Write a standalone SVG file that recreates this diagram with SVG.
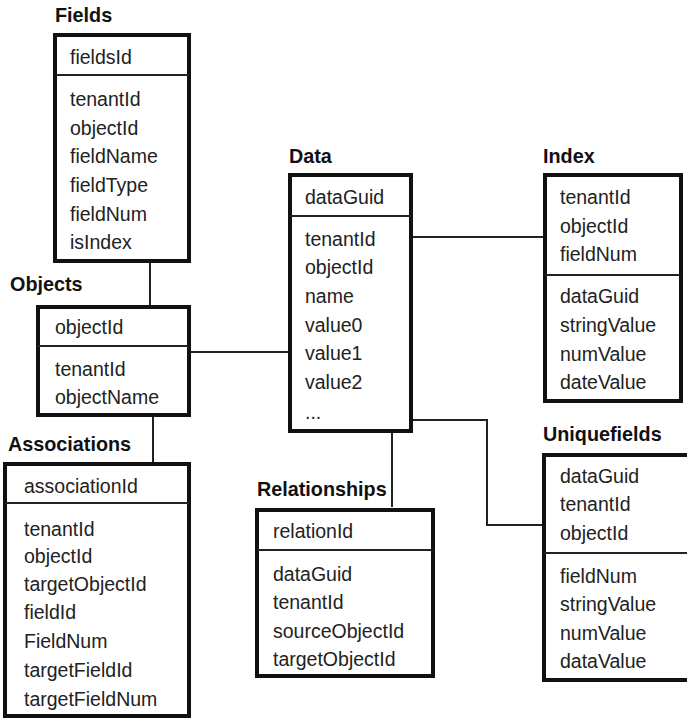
<svg xmlns="http://www.w3.org/2000/svg" width="687" height="721" viewBox="0 0 687 721">
  <style>
    .box { fill: #fff; stroke: #111; stroke-width: 4; }
    .div { stroke: #222; stroke-width: 2; }
    .conn { fill: none; stroke: #222; stroke-width: 2; }
    .title { font-family: "Liberation Sans", Arial, sans-serif; font-weight: bold; font-size: 19.8px; fill: #111; }
    .fld { font-family: "Liberation Sans", Arial, sans-serif; font-size: 19.5px; fill: #222; }
  </style>
  <rect width="687" height="721" fill="#fff"/>

  <!-- connectors between tables -->
  <g id="connectors">
    <line class="conn" x1="150" y1="263" x2="150" y2="305"/>
    <line class="conn" x1="153" y1="417" x2="153" y2="462"/>
    <line class="conn" x1="190" y1="352" x2="289" y2="352"/>
    <line class="conn" x1="413" y1="237" x2="543" y2="237"/>
    <polyline class="conn" points="413,420 487,420 487,525 543,525"/>
    <line class="conn" x1="392" y1="430" x2="392" y2="507"/>
  </g>

  <g id="fields">
    <text class="title" x="55" y="22">Fields</text>
    <rect class="box" x="55" y="35" width="134" height="226"/>
    <line class="div" x1="55" y1="75" x2="189" y2="75"/>
    <text class="fld" x="70" y="64">fieldsId</text>
    <text class="fld" x="70" y="106">tenantId</text>
    <text class="fld" x="70" y="135">objectId</text>
    <text class="fld" x="70" y="163">fieldName</text>
    <text class="fld" x="70" y="192">fieldType</text>
    <text class="fld" x="70" y="221">fieldNum</text>
    <text class="fld" x="70" y="249">isIndex</text>
  </g>

  <g id="objects">
    <text class="title" x="10" y="291">Objects</text>
    <rect class="box" x="38" y="307" width="151" height="108"/>
    <line class="div" x1="38" y1="346" x2="189" y2="346"/>
    <text class="fld" x="55" y="334">objectId</text>
    <text class="fld" x="55" y="376">tenantId</text>
    <text class="fld" x="55" y="404">objectName</text>
  </g>

  <g id="associations">
    <text class="title" x="8" y="451">Associations</text>
    <rect class="box" x="5" y="464" width="184" height="252"/>
    <line class="div" x1="5" y1="503" x2="189" y2="503"/>
    <text class="fld" x="24" y="493">associationId</text>
    <text class="fld" x="24" y="536">tenantId</text>
    <text class="fld" x="24" y="563">objectId</text>
    <text class="fld" x="24" y="591">targetObjectId</text>
    <text class="fld" x="24" y="619">fieldId</text>
    <text class="fld" x="24" y="648">FieldNum</text>
    <text class="fld" x="24" y="677">targetFieldId</text>
    <text class="fld" x="24" y="706">targetFieldNum</text>
  </g>

  <g id="data">
    <text class="title" x="289" y="163">Data</text>
    <rect class="box" x="290" y="175" width="121" height="256"/>
    <line class="div" x1="290" y1="216" x2="411" y2="216"/>
    <text class="fld" x="305" y="204">dataGuid</text>
    <text class="fld" x="305" y="246">tenantId</text>
    <text class="fld" x="305" y="274">objectId</text>
    <text class="fld" x="305" y="303">name</text>
    <text class="fld" x="305" y="332">value0</text>
    <text class="fld" x="305" y="360">value1</text>
    <text class="fld" x="305" y="389">value2</text>
    <text class="fld" x="305" y="419">...</text>
  </g>

  <g id="index">
    <text class="title" x="543" y="163">Index</text>
    <rect class="box" x="545" y="175" width="136" height="226"/>
    <line class="div" x1="545" y1="275" x2="681" y2="275"/>
    <text class="fld" x="560" y="204">tenantId</text>
    <text class="fld" x="560" y="233">objectId</text>
    <text class="fld" x="560" y="261">fieldNum</text>
    <text class="fld" x="560" y="303">dataGuid</text>
    <text class="fld" x="560" y="332">stringValue</text>
    <text class="fld" x="560" y="361">numValue</text>
    <text class="fld" x="560" y="389">dateValue</text>
  </g>

  <g id="relationships">
    <text class="title" x="257" y="496">Relationships</text>
    <rect class="box" x="257" y="510" width="176" height="166"/>
    <line class="div" x1="257" y1="550" x2="433" y2="550"/>
    <text class="fld" x="273" y="538">relationId</text>
    <text class="fld" x="273" y="581">dataGuid</text>
    <text class="fld" x="273" y="609">tenantId</text>
    <text class="fld" x="273" y="638">sourceObjectId</text>
    <text class="fld" x="273" y="666">targetObjectId</text>
  </g>

  <g id="uniquefields">
    <text class="title" x="543" y="441">Uniquefields</text>
    <rect class="box" x="544" y="455" width="150" height="225"/>
    <line class="div" x1="544" y1="553" x2="687" y2="553"/>
    <text class="fld" x="560" y="483">dataGuid</text>
    <text class="fld" x="560" y="511">tenantId</text>
    <text class="fld" x="560" y="540">objectId</text>
    <text class="fld" x="560" y="583">fieldNum</text>
    <text class="fld" x="560" y="611">stringValue</text>
    <text class="fld" x="560" y="640">numValue</text>
    <text class="fld" x="560" y="668">dataValue</text>
  </g>
</svg>
